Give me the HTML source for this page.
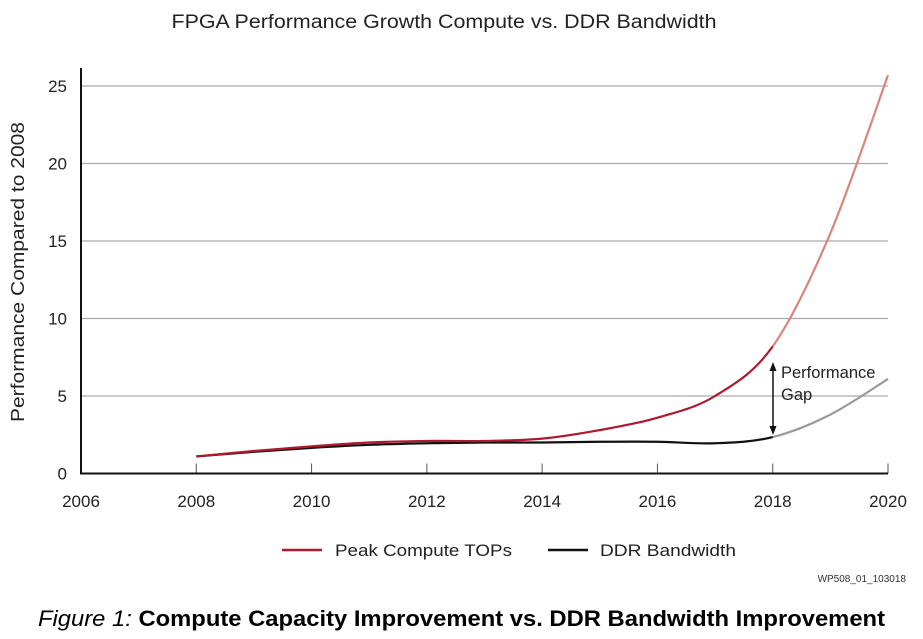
<!DOCTYPE html>
<html><head><meta charset="utf-8"><style>
html,body{margin:0;padding:0;background:#fff;}
svg{display:block;font-family:"Liberation Sans",sans-serif;}
</style></head><body>
<svg id="chart" width="923" height="639" viewBox="0 0 923 639">
<text x="444" y="28" text-anchor="middle" font-size="19" fill="#222" textLength="545" lengthAdjust="spacingAndGlyphs">FPGA Performance Growth Compute vs. DDR Bandwidth</text>
<text transform="translate(24,272) rotate(-90)" text-anchor="middle" font-size="18.5" fill="#222" textLength="300" lengthAdjust="spacingAndGlyphs">Performance Compared to 2008</text>
<g id="grid"></g><g id="series"></g>
<g>
<line x1="773" y1="370" x2="773" y2="427" stroke="#111" stroke-width="1.5"/>
<polygon points="773,362 769.5,371 776.5,371" fill="#111"/>
<polygon points="773,435 769.5,426 776.5,426" fill="#111"/>
<text x="781" y="378" font-size="16.5" fill="#222">Performance</text>
<text x="781" y="400" font-size="16.5" fill="#222">Gap</text>
</g>
<g>
<line x1="282" y1="550" x2="322" y2="550" stroke="#b0182e" stroke-width="2.5"/>
<text x="335" y="556" font-size="17" fill="#222" textLength="177" lengthAdjust="spacingAndGlyphs">Peak Compute TOPs</text>
<line x1="548" y1="550" x2="588" y2="550" stroke="#111" stroke-width="2.5"/>
<text x="600" y="556" font-size="17" fill="#222" textLength="136" lengthAdjust="spacingAndGlyphs">DDR Bandwidth</text>
</g>
<text x="906" y="582" text-anchor="end" font-size="10" fill="#333">WP508_01_103018</text>
<text x="38" y="626" font-size="22" fill="#000" textLength="847" lengthAdjust="spacingAndGlyphs"><tspan font-style="italic">Figure 1:</tspan><tspan font-weight="bold">  Compute Capacity Improvement vs. DDR Bandwidth Improvement</tspan></text>
</svg>
<script>
const years=[2008,2009,2010,2011,2012,2013,2014,2015,2016,2017,2018,2019,2020];
const computeVals=[1.1,1.45,1.75,2.0,2.1,2.1,2.25,2.8,3.6,5.0,8.2,15.5,25.7];
const ddrVals=[1.1,1.4,1.65,1.85,1.95,2.0,2.0,2.05,2.05,1.95,2.35,3.8,6.1];
const yTicks=[0,5,10,15,20,25];
const xTicks=[2006,2008,2010,2012,2014,2016,2018,2020];
const projectFrom=2018;
const NS="http://www.w3.org/2000/svg";
const X0=81,X1=888,Y0=473.5,Y1=86;
const xs=v=>X0+(v-2006)/(2020-2006)*(X1-X0);
const ys=v=>Y0+(v/25)*(Y1-Y0);
function mk(t,a,p){const e=document.createElementNS(NS,t);for(const k in a)e.setAttribute(k,a[k]);p.appendChild(e);return e;}
const g=document.getElementById('grid'),s=document.getElementById('series');
yTicks.forEach(v=>{
 if(v>0){const l=mk('line',{x1:X0,x2:X1,y1:ys(v),y2:ys(v),stroke:'#aaa','stroke-width':1.2},g);
 
 }
 const t=mk('text',{x:X0-14,y:ys(v)+6,'text-anchor':'end','font-size':17,fill:'#222'},g);t.textContent=v;
 
 
});
xTicks.forEach(v=>{
 const l=mk('line',{x1:xs(v),x2:xs(v),y1:Y0,y2:Y0-10,stroke:'#555','stroke-width':1},g);
 
 
 const t=mk('text',{x:xs(v),y:507,'text-anchor':'middle','font-size':17,fill:'#222'},g);t.textContent=v;
 
 
});
const ax=mk('line',{x1:X0,x2:X0,y1:68,y2:Y0+1,stroke:'#111','stroke-width':2},g);


const bx=mk('line',{x1:X0-1,x2:X1,y1:Y0,y2:Y0,stroke:'#111','stroke-width':2},g);


function seg(pts,i){
 const p0=pts[Math.max(i-1,0)],p1=pts[i],p2=pts[i+1],p3=pts[Math.min(i+2,pts.length-1)];
 const c1=[p1[0]+(p2[0]-p0[0])/6,p1[1]+(p2[1]-p0[1])/6],c2=[p2[0]-(p3[0]-p1[0])/6,p2[1]-(p3[1]-p1[1])/6];
 return ' C'+c1+' '+c2+' '+p2;
}
function draw(vals,col,projCol,name){
 const pts=years.map((y,i)=>[xs(y),ys(vals[i])]);
 const k=years.indexOf(projectFrom);
 let d1='M'+pts[0],d2='M'+pts[k];
 for(let i=0;i<pts.length-1;i++){if(i<k)d1+=seg(pts,i);else d2+=seg(pts,i);}
 const a=mk('path',{d:d1,fill:'none',stroke:col,'stroke-width':2.2},s);
 
 
 const b=mk('path',{d:d2,fill:'none',stroke:projCol,'stroke-width':2.2},s);
 
 
}
draw(ddrVals,'#111','#999','ddr-bandwidth');
draw(computeVals,'#b0182e','#d9857a','peak-compute');
</script>
</body></html>
